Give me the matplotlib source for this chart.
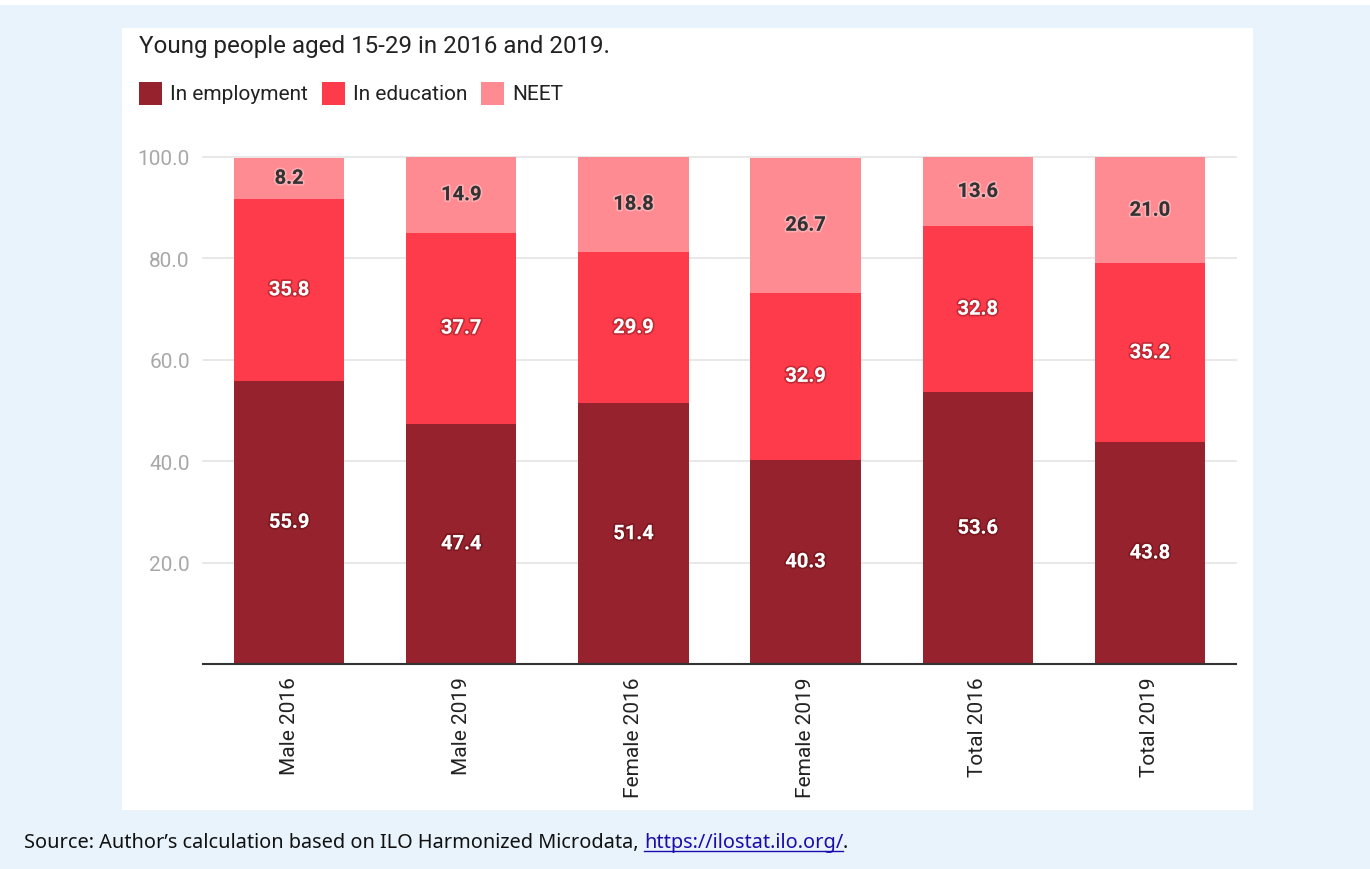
import matplotlib
matplotlib.use("Agg")
import matplotlib.pyplot as plt
import matplotlib.patheffects as pe
from matplotlib.patches import Rectangle
from matplotlib.lines import Line2D
import numpy as np

categories = ["Male 2016", "Male 2019", "Female 2016", "Female 2019", "Total 2016", "Total 2019"]
employment = [55.9, 47.4, 51.4, 40.3, 53.6, 43.8]
education = [35.8, 37.7, 29.9, 32.9, 32.8, 35.2]
neet = [8.2, 14.9, 18.8, 26.7, 13.6, 21.0]
series_names = ["In employment", "In education", "NEET"]
series_colors = ["#95222d", "#fe3b4b", "#fe8a92"]
yticks = [20, 40, 60, 80, 100]
title = "Young people aged 15-29 in 2016 and 2019."
source_text = "Source: Author\u2019s calculation based on ILO Harmonized Microdata, "
source_link = "https://ilostat.ilo.org/"

W, H = 1370, 870
fig = plt.figure(figsize=(W / 100, H / 100), dpi=100)
fig.patch.set_facecolor("#e8f3fc")

def fx(px):
    return px / W

def fy(py):
    return 1 - py / H

# top white strip and white panel
fig.patches.append(Rectangle((0, fy(6)), 1, 6 / H, transform=fig.transFigure,
                             facecolor="white", edgecolor="none", zorder=-10))
fig.patches.append(Rectangle((fx(122), fy(811)), fx(1253) - fx(122), (811 - 29) / H,
                             transform=fig.transFigure, facecolor="white",
                             edgecolor="none", zorder=-10))

ax = fig.add_axes([fx(203), fy(665), fx(1236) - fx(203), (665 - 158) / H])
ax.set_zorder(1)
ax.set_facecolor("none")
x = np.arange(len(categories))
bw = 0.64
data = [employment, education, neet]
bottom = np.zeros(len(categories))
for i, (vals, col) in enumerate(zip(data, series_colors)):
    vals = np.array(vals)
    ax.bar(x, vals, bw, bottom=bottom, color=col, zorder=3)
    for xi, b, v in zip(x, bottom, vals):
        if i < 2:
            tc = "white"
            eff = [pe.withStroke(linewidth=2.5, foreground=(0.25, 0, 0, 0.3))]
        else:
            tc = "#333333"
            eff = [pe.withStroke(linewidth=2.5, foreground=(1, 1, 1, 0.3))]
        ax.text(xi, b + v / 2, f"{v:.1f}", ha="center", va="center", color=tc,
                fontsize=14.5, fontweight="bold", family="Roboto", path_effects=eff,
                zorder=5)
    bottom = bottom + vals

ax.set_xlim(-0.5, len(categories) - 0.5)
ax.set_ylim(0, 100)
ax.set_yticks(yticks)
ax.set_yticklabels([f"{t:.1f}" for t in yticks], family="Roboto", fontsize=15,
                   color="#a8a8a8")
ax.set_xticks(x)
ax.set_xticklabels(categories, rotation=90, family="Roboto", fontsize=15,
                   color="#222222")
ax.tick_params(axis="both", length=0)
ax.tick_params(axis="y", pad=9.5)
ax.tick_params(axis="x", pad=9)
for s in ["left", "right", "top"]:
    ax.spines[s].set_visible(False)
ax.spines["bottom"].set_color("#333333")
ax.spines["bottom"].set_linewidth(1.5)
ax.spines["bottom"].set_zorder(6)
ax.yaxis.grid(True, color="#e4e4e4", linewidth=1.2, zorder=0)
for gl in ax.get_ygridlines():
    gl.set_clip_on(False)
ax.set_axisbelow(True)

# title
fig.text(fx(139), fy(47), title, ha="left", va="center", family="Roboto",
         fontsize=17.4, color="#222222")

# legend
fig.canvas.draw()
renderer = fig.canvas.get_renderer()
lx = 139
for name, col in zip(series_names, series_colors):
    fig.patches.append(Rectangle((fx(lx), fy(106)), 23 / W, 23 / H,
                                 transform=fig.transFigure, facecolor=col,
                                 edgecolor="none", zorder=2))
    t = fig.text(fx(lx + 31), fy(94.5), name, ha="left", va="center",
                 family="Roboto", fontsize=15, color="#222222")
    bb = t.get_window_extent(renderer=renderer)
    lx = bb.x1 + 14

# source
t1 = fig.text(fx(24), fy(843), source_text, ha="left", va="center",
              family="Noto Sans", fontsize=14.35, color="#111111")
bb1 = t1.get_window_extent(renderer=renderer)
t2 = fig.text(bb1.x1 / W, fy(843), source_link, ha="left", va="center",
              family="Noto Sans", fontsize=14.35, color="#1a0dab")
bb2 = t2.get_window_extent(renderer=renderer)
t3 = fig.text(bb2.x1 / W, fy(843), ".", ha="left", va="center",
              family="Noto Sans", fontsize=14.35, color="#111111")
uy = bb2.y0 + 1
fig.lines.append(Line2D([bb2.x0 / W, bb2.x1 / W], [uy / H, uy / H],
                        transform=fig.transFigure, color="#1a0dab", linewidth=1))

fig.savefig("out.png", dpi=100, facecolor=fig.get_facecolor())
